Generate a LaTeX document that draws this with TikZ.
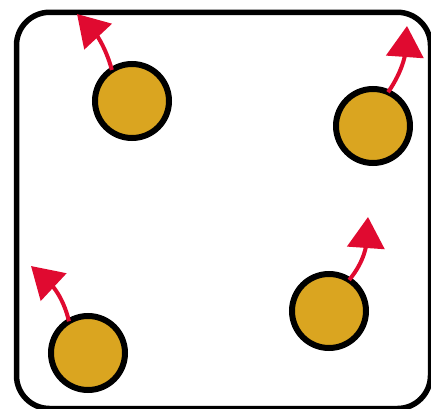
\documentclass[tikz,border=0pt]{standalone}
\usetikzlibrary{arrows.meta}
\definecolor{ballfill}{HTML}{DAA520}
\definecolor{arrowred}{RGB}{224,10,48}
\tikzset{
  ball/.style={circle,draw=black,line width=6pt,fill=ballfill,minimum size=74pt,inner sep=0pt,outer sep=0pt},
  velo/.style={draw=arrowred,line width=4pt,-{Triangle[length=31pt,width=37pt]}},
  box/.style={draw=black,line width=5.5pt,rounded corners=33pt}
}
\begin{document}
\begin{tikzpicture}[x=1pt,y=1pt]
\useasboundingbox (0,0) rectangle (431,408);
\draw[box] (16.5,395.7) rectangle (430.5,-0.5);
\node[ball] (c1) at (132,307) {};
\node[ball] (c2) at (373,282) {};
\node[ball] (c3) at (88,55) {};
\node[ball] (c4) at (329,97) {};
\coordinate (t1) at (77,394);
\coordinate (t2) at (407,382);
\coordinate (t3) at (31,142);
\coordinate (t4) at (368,191);
\draw[velo] (c1.123) to[out=105,in=-47] (t1);
\draw[velo] (c2.66) to[out=55,in=-94] (t2);
\draw[velo] (c3.121) to[out=103,in=-43] (t3);
\draw[velo] (c4.57) to[out=50,in=-94] (t4);
\end{tikzpicture}
\end{document}
